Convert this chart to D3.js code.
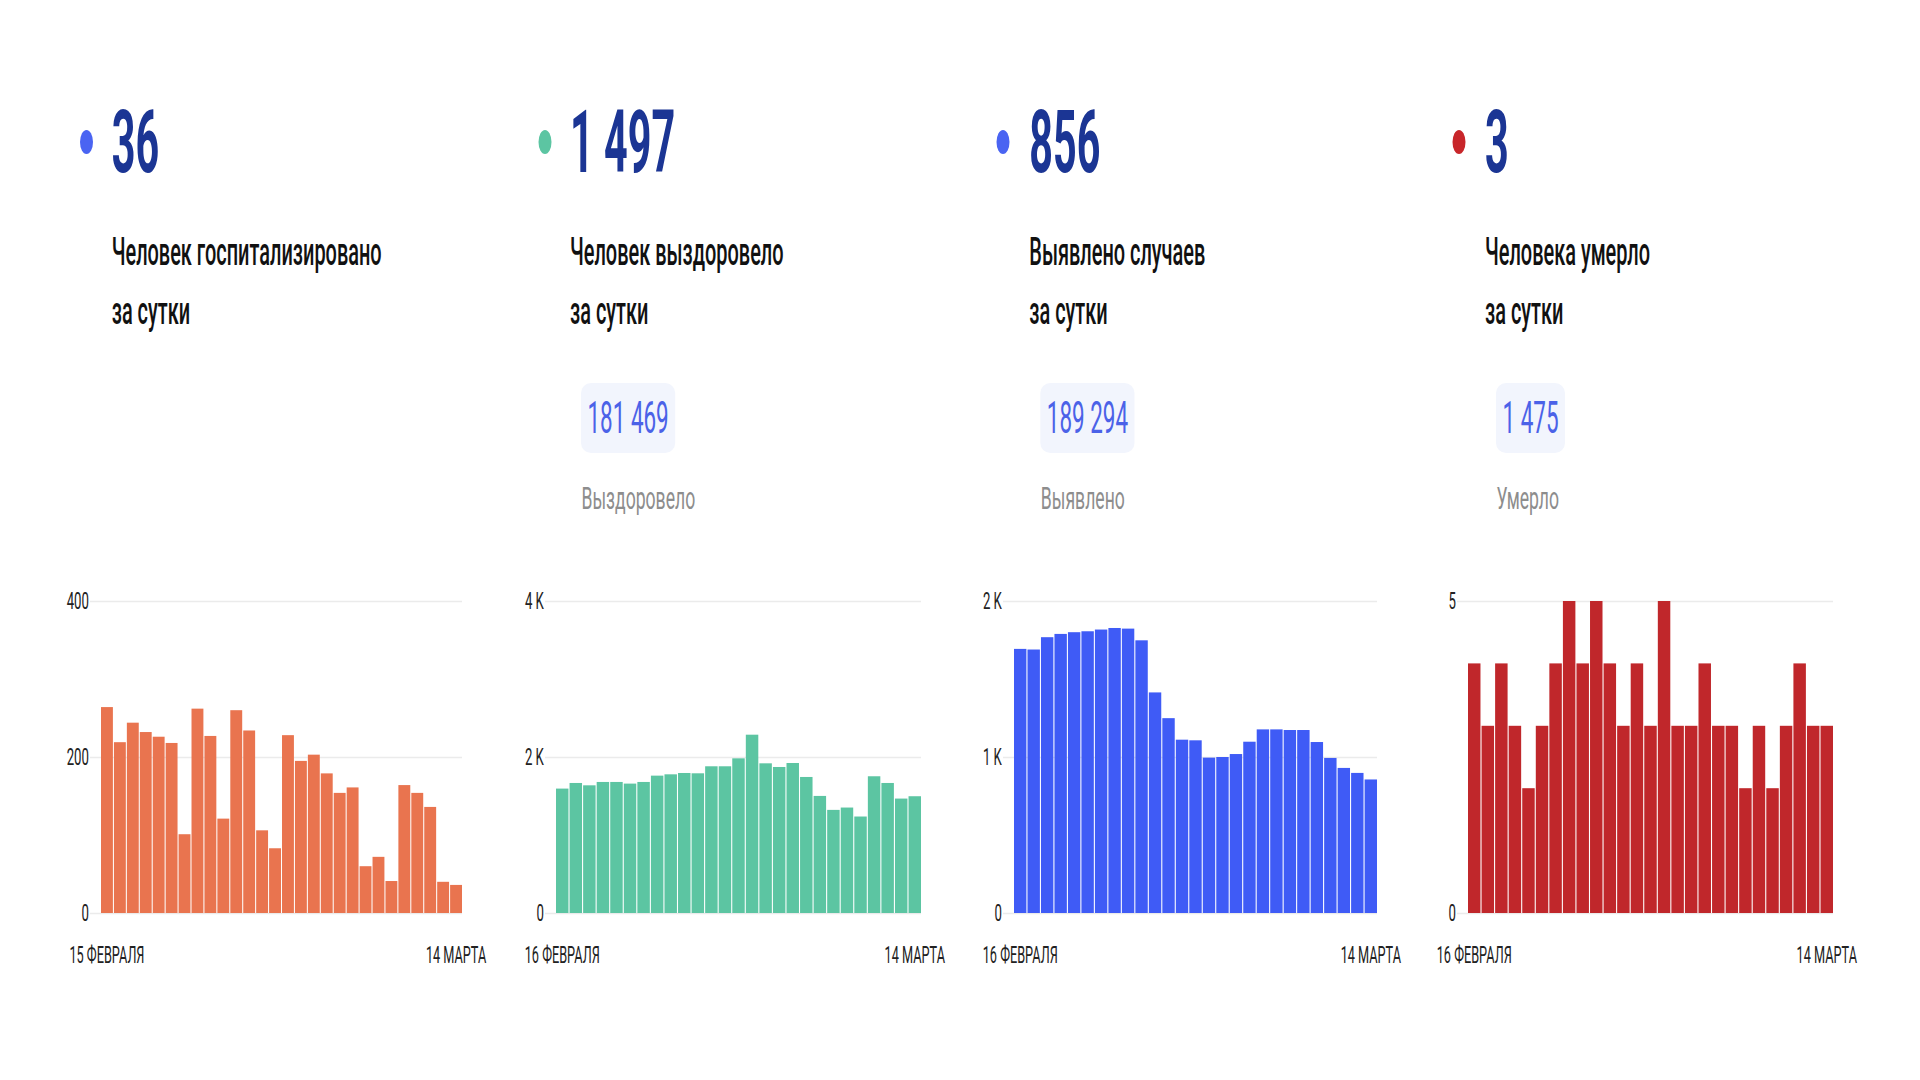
<!DOCTYPE html>
<html><head><meta charset="utf-8">
<script src="https://cdn.jsdelivr.net/npm/d3@7"></script>
<style>html,body{margin:0;padding:0;background:#fff;} svg{display:block;font-family:Roboto,"Noto Sans",sans-serif}</style>
</head><body>
<svg id="c" width="1920" height="1080"></svg>
<script>
// ---- data ----
const hospitalized = [264,219,244,232,226,218,101,262,227,121,260,234,106,83,228,195,203,179,154,161,60,72,41,164,154,136,40,36];
const recovered = [1595,1667,1637,1680,1680,1659,1680,1761,1778,1795,1791,1881,1881,1983,2286,1919,1872,1923,1744,1501,1322,1352,1237,1753,1667,1467,1497];
const detected = [1693,1689,1768,1789,1800,1806,1817,1827,1823,1748,1414,1249,1111,1107,996,1000,1019,1098,1177,1177,1173,1173,1096,994,930,898,856];
const deaths = [4,3,4,3,2,3,4,5,4,5,4,3,4,3,5,3,3,4,3,3,2,3,2,3,4,3,3];
const dailyValues = ["36","1 497","856","3"];
const descLine1 = ["Человек госпитализировано","Человек выздоровело","Выявлено случаев","Человека умерло"];
const descLine2 = ["за сутки","за сутки","за сутки","за сутки"];
const totals = [null,"181 469","189 294","1 475"];
const totalLabels = [null,"Выздоровело","Выявлено","Умерло"];
const startLabels = ["15 ФЕВРАЛЯ","16 ФЕВРАЛЯ","16 ФЕВРАЛЯ","16 ФЕВРАЛЯ"];
const endLabels = ["14 МАРТА","14 МАРТА","14 МАРТА","14 МАРТА"];
const yMax = [400,4000,2000,5];
const yTicks = [[0,200,400],[0,2000,4000],[0,1000,2000],[0,5]];
const tickLabels = [["0","200","400"],["0","2 K","4 K"],["0","1 K","2 K"],["0","5"]];
const series = [hospitalized, recovered, detected, deaths];

// ---- styles / layout ----
const barColors = ["#e9744f","#5cc5a2","#3f5bf6","#c0272b"];
const dotColors = ["#4a64f2","#5cc5a2","#4a64f2","#c8262a"];
const numX = [111.7,570,1029.3,1485];
const dotX = [86.5,545,1003,1459];
const bandX0 = [101,556,1014,1468];
const bandX1 = [462,921,1377,1833];
const Y0 = 913, Y1 = 601;

const svg = d3.select("#c");

function sText(g, x, y, txt, size, weight, fill, sx) {
  return g.append("text")
    .attr("transform", `translate(${x},${y}) scale(${sx},1)`)
    .attr("font-size", size).attr("font-weight", weight)
    .attr("fill", fill)
    .text(txt);
}

series.forEach((data, p) => {
  const g = svg.append("g");
  // header
  g.append("ellipse").attr("cx", dotX[p]).attr("cy", 142).attr("rx", 6.5).attr("ry", 12).attr("fill", dotColors[p]);
  sText(g, numX[p], 172, dailyValues[p], 87, 700, "#1b3594", 0.475);
  sText(g, numX[p], 265, descLine1[p], 38, 500, "#111", 0.525);
  sText(g, numX[p], 324, descLine2[p], 38, 500, "#111", 0.525);
  if (totals[p]) {
    const box = g.append("rect").attr("y", 383).attr("height", 70).attr("rx", 10).attr("fill", "#f2f5fd");
    const t = sText(g, numX[p] + 11 + 6.5, 433, totals[p], 44, 400, "#4b62e8", 0.51);
    const w = t.node().getComputedTextLength() * 0.51;
    box.attr("x", numX[p] + 11).attr("width", w + 13);
    sText(g, numX[p] + 11.5, 509, totalLabels[p], 32, 400, "#8d8d8d", 0.55);
  }
  // chart
  const x = d3.scaleBand().domain(d3.range(data.length)).range([bandX0[p], bandX1[p]]).paddingInner(0.08);
  const y = d3.scaleLinear().domain([0, yMax[p]]).range([Y0, Y1]);
  const gridStart = bandX0[p] - 11;
  const yAxis = g.append("g").attr("transform", `translate(${gridStart},0)`)
    .call(d3.axisLeft(y).tickValues(yTicks[p]).tickSize(-(bandX1[p] - gridStart)).tickPadding(2)
      .tickFormat((d, i) => tickLabels[p][i]));
  yAxis.select(".domain").remove();
  yAxis.selectAll(".tick line").attr("stroke", "#ebebeb").attr("stroke-width", 1.5);
  yAxis.selectAll(".tick text").attr("font-size", 24).attr("fill", "#222").attr("font-family", "Roboto")
    .attr("transform", "scale(0.55,1)");

  g.append("g").selectAll("rect").data(data).join("rect")
    .attr("x", (d, i) => x(i)).attr("width", x.bandwidth())
    .attr("y", d => y(d)).attr("height", d => Y0 - y(d))
    .attr("fill", barColors[p]);

  const xAxis = g.append("g").attr("transform", `translate(0,${Y0})`)
    .call(d3.axisBottom(x).tickValues([0, data.length - 1]).tickSize(0)
      .tickFormat(i => i === 0 ? startLabels[p] : endLabels[p]));
  xAxis.select(".domain").remove();
  xAxis.selectAll(".tick text").attr("font-size", 24).attr("fill", "#222").attr("font-family", "Roboto")
    .attr("y", 50).attr("dy", 0).attr("x", 0)
    .attr("transform", "scale(0.53,1)");
});
</script>
</body></html>
